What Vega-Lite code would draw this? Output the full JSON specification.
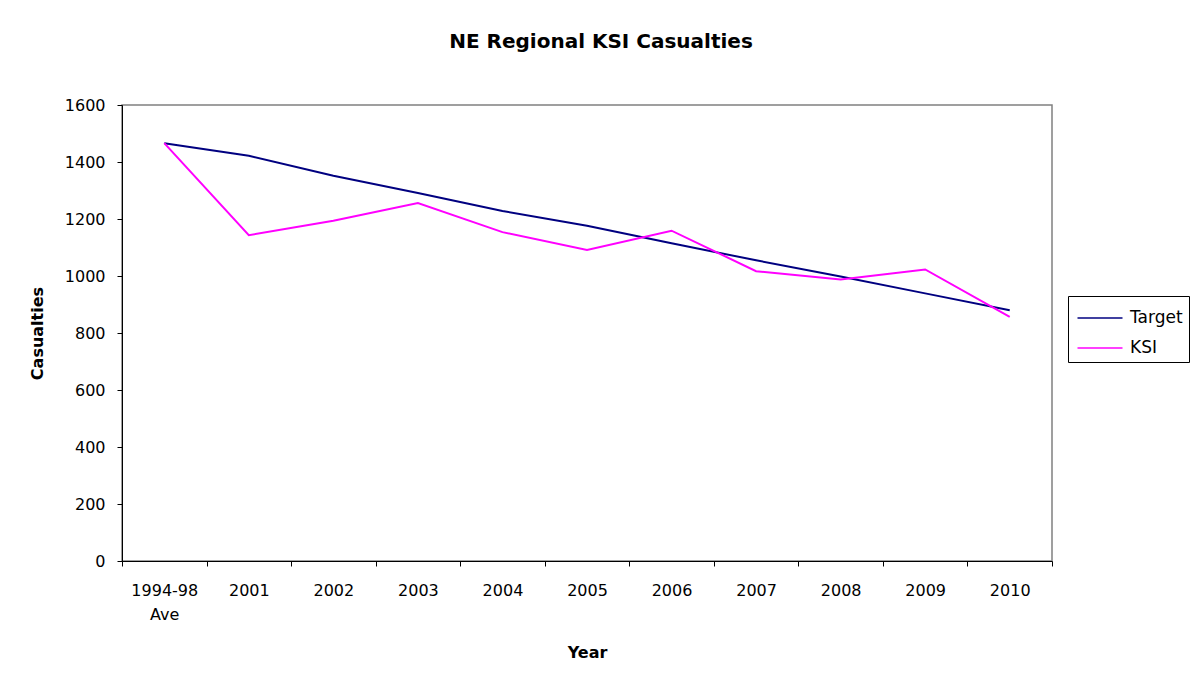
{
  "$schema": "https://vega.github.io/schema/vega-lite/v6.json",
  "autosize": {"type": "none"},
  "width": 930,
  "height": 456,
  "padding": {"left": 122, "top": 105, "right": 146, "bottom": 126},
  "background": "white",
  "title": {
    "text": "NE Regional KSI Casualties",
    "font": "DejaVu Sans",
    "fontSize": 20,
    "fontWeight": "bold",
    "color": "black",
    "anchor": "middle",
    "dx": 14,
    "offset": 45
  },
  "data": {
    "values": [
      {"Year": "1994-98 Ave", "Series": "Target", "Casualties": 1466},
      {"Year": "2001", "Series": "Target", "Casualties": 1422},
      {"Year": "2002", "Series": "Target", "Casualties": 1352},
      {"Year": "2003", "Series": "Target", "Casualties": 1291},
      {"Year": "2004", "Series": "Target", "Casualties": 1228},
      {"Year": "2005", "Series": "Target", "Casualties": 1176},
      {"Year": "2006", "Series": "Target", "Casualties": 1115},
      {"Year": "2007", "Series": "Target", "Casualties": 1055},
      {"Year": "2008", "Series": "Target", "Casualties": 998},
      {"Year": "2009", "Series": "Target", "Casualties": 939},
      {"Year": "2010", "Series": "Target", "Casualties": 880},
      {"Year": "1994-98 Ave", "Series": "KSI", "Casualties": 1466},
      {"Year": "2001", "Series": "KSI", "Casualties": 1143},
      {"Year": "2002", "Series": "KSI", "Casualties": 1194},
      {"Year": "2003", "Series": "KSI", "Casualties": 1256},
      {"Year": "2004", "Series": "KSI", "Casualties": 1154},
      {"Year": "2005", "Series": "KSI", "Casualties": 1091},
      {"Year": "2006", "Series": "KSI", "Casualties": 1159},
      {"Year": "2007", "Series": "KSI", "Casualties": 1017},
      {"Year": "2008", "Series": "KSI", "Casualties": 988},
      {"Year": "2009", "Series": "KSI", "Casualties": 1023},
      {"Year": "2010", "Series": "KSI", "Casualties": 857}
    ]
  },
  "mark": {"type": "line", "strokeWidth": 2},
  "encoding": {
    "x": {
      "field": "Year",
      "type": "ordinal",
      "sort": null,
      "scale": {"type": "band", "paddingInner": 0, "paddingOuter": 0},
      "axis": {
        "title": "Year",
        "tickBand": "extent",
        "labelAngle": 0,
        "labelExpr": "datum.label == '1994-98 Ave' ? ['1994-98', 'Ave'] : datum.label",
        "labelLineHeight": 24,
        "labelPadding": 16,
        "titlePadding": 22
      }
    },
    "y": {
      "field": "Casualties",
      "type": "quantitative",
      "scale": {"domain": [0, 1600], "nice": false},
      "axis": {
        "title": "Casualties",
        "format": "d",
        "values": [0, 200, 400, 600, 800, 1000, 1200, 1400, 1600],
        "grid": false,
        "labelPadding": 12,
        "titlePadding": 19
      }
    },
    "color": {
      "field": "Series",
      "type": "nominal",
      "sort": ["Target", "KSI"],
      "scale": {"domain": ["Target", "KSI"], "range": ["#000080", "#FF00FF"]},
      "legend": {
        "title": null,
        "orient": "none",
        "legendX": 946,
        "legendY": 191,
        "strokeColor": "black",
        "fillColor": "white",
        "padding": 6,
        "symbolType": "M-1.5,0H1.5",
        "symbolSize": 900,
        "symbolStrokeWidth": 1.5,
        "symbolOffset": 10,
        "labelFont": "DejaVu Sans",
        "labelFontSize": 17,
        "labelColor": "black",
        "rowPadding": 6,
        "labelOffset": 14
      }
    }
  },
  "config": {
    "font": "DejaVu Sans",
    "view": {"stroke": "#808080", "strokeWidth": 1.5},
    "axis": {
      "domainColor": "black",
      "tickColor": "black",
      "tickSize": 5,
      "labelFont": "DejaVu Sans",
      "labelFontSize": 16,
      "labelColor": "black",
      "titleFont": "DejaVu Sans",
      "titleFontSize": 16,
      "titleFontWeight": "bold",
      "titleColor": "black"
    }
  }
}
